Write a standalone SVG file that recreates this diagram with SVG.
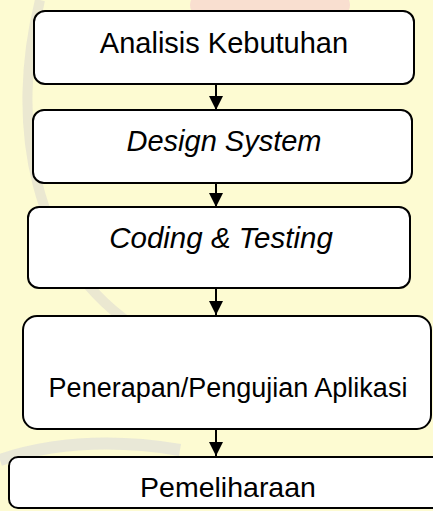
<svg xmlns="http://www.w3.org/2000/svg" width="433" height="511" viewBox="0 0 433 511">
  <style>
    .box { fill: #ffffff; stroke: #000000; stroke-width: 2; }
    .lbl { font-family: "Liberation Sans", Arial, sans-serif; font-size: 29px; fill: #000000; text-anchor: middle; }
    .it { font-style: italic; }
    .conn { stroke: #000000; stroke-width: 2; fill: none; }
  </style>
  <defs>
    <marker id="arrow" viewBox="0 0 14 14" refX="14" refY="7" markerWidth="14" markerHeight="14" markerUnits="userSpaceOnUse" orient="auto">
      <path d="M0,0 L14,7 L0,14 Z" fill="#000000"/>
    </marker>
  </defs>
  <g id="background">
    <rect x="0" y="0" width="433" height="511" fill="#fdfbd2"/>
    <ellipse cx="270" cy="5" rx="80" ry="30" fill="#f8d8d0" opacity="0.8"/>
    <path d="M40,0 C10,120 30,260 140,330" stroke="#e2e0d0" stroke-width="10" fill="none" opacity="0.7"/>
    <path d="M0,460 C60,440 120,440 180,450" stroke="#e0e0d8" stroke-width="12" fill="none" opacity="0.7"/>
  </g>
  <g id="connectors">
    <line class="conn" x1="216" y1="85" x2="216" y2="110" marker-end="url(#arrow)"/>
    <line class="conn" x1="216" y1="183" x2="216" y2="207" marker-end="url(#arrow)"/>
    <line class="conn" x1="216" y1="288" x2="216" y2="315" marker-end="url(#arrow)"/>
    <line class="conn" x1="216" y1="429" x2="216" y2="456" marker-end="url(#arrow)"/>
  </g>
  <g id="node-analisis">
    <rect class="box" x="34" y="11" width="380" height="73" rx="11"/>
    <text class="lbl" x="224" y="53">Analisis Kebutuhan</text>
  </g>
  <g id="node-design">
    <rect class="box" x="33" y="110" width="379" height="73" rx="11"/>
    <text class="lbl it" x="224" y="151">Design System</text>
  </g>
  <g id="node-coding">
    <rect class="box" x="28" y="207" width="382" height="81" rx="11"/>
    <text class="lbl it" x="221" y="248" style="font-size:29.5px">Coding &amp; Testing</text>
  </g>
  <g id="node-penerapan">
    <rect class="box" x="23" y="316" width="408" height="113" rx="14"/>
    <text class="lbl" x="228" y="397" style="font-size:27px">Penerapan/Pengujian Aplikasi</text>
  </g>
  <g id="node-pemeliharaan">
    <rect class="box" x="9" y="457" width="440" height="51" rx="9"/>
    <text class="lbl" x="228" y="497" style="font-size:28.5px">Pemeliharaan</text>
  </g>
</svg>
